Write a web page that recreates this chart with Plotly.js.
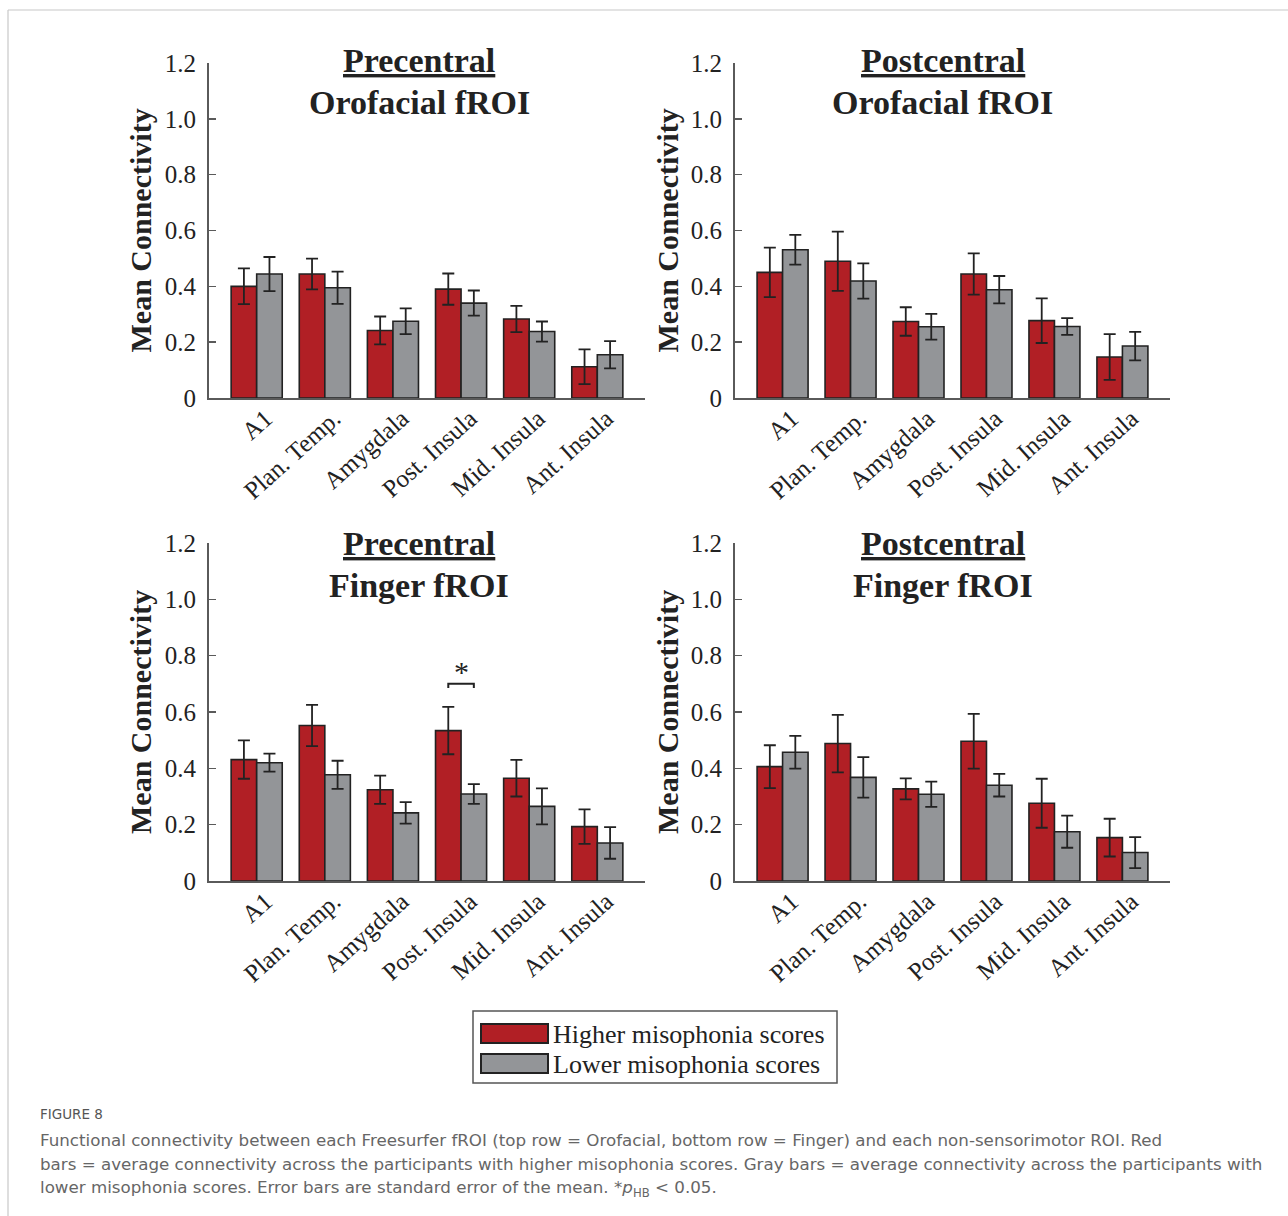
<!DOCTYPE html>
<html>
<head>
<meta charset="utf-8">
<script src="https://cdn.plot.ly/plotly-3.0.1.min.js"></script>
<style>html,body{margin:0;padding:0;background:#fff;}#chart{width:1288px;height:1216px;}</style>
</head>
<body>
<div id="chart"></div>
<script>
// ---------- data ----------
const categories = ['A1', 'Plan. Temp.', 'Amygdala', 'Post. Insula', 'Mid. Insula', 'Ant. Insula'];
const seriesNames = ['Higher misophonia scores', 'Lower misophonia scores'];

const preOroHigh = [0.400, 0.444, 0.242, 0.390, 0.283, 0.112];
const preOroHighErr = [0.064, 0.055, 0.050, 0.056, 0.047, 0.062];
const preOroLow = [0.444, 0.395, 0.275, 0.340, 0.238, 0.155];
const preOroLowErr = [0.061, 0.058, 0.046, 0.045, 0.036, 0.049];

const postOroHigh = [0.450, 0.490, 0.274, 0.444, 0.277, 0.147];
const postOroHighErr = [0.089, 0.106, 0.051, 0.074, 0.080, 0.082];
const postOroLow = [0.531, 0.419, 0.255, 0.388, 0.256, 0.186];
const postOroLowErr = [0.053, 0.063, 0.046, 0.049, 0.030, 0.051];

const preFinHigh = [0.431, 0.552, 0.324, 0.534, 0.365, 0.193];
const preFinHighErr = [0.068, 0.073, 0.050, 0.084, 0.065, 0.061];
const preFinLow = [0.420, 0.377, 0.242, 0.309, 0.265, 0.135];
const preFinLowErr = [0.032, 0.050, 0.038, 0.035, 0.064, 0.056];

const postFinHigh = [0.406, 0.488, 0.327, 0.496, 0.276, 0.154];
const postFinHighErr = [0.076, 0.102, 0.037, 0.097, 0.087, 0.067];
const postFinLow = [0.457, 0.368, 0.308, 0.340, 0.175, 0.101];
const postFinLowErr = [0.058, 0.072, 0.045, 0.040, 0.057, 0.055];

const yTickVals = [0, 0.2, 0.4, 0.6, 0.8, 1.0, 1.2];
const yTickText = ['0', '0.2', '0.4', '0.6', '0.8', '1.0', '1.2'];

const panelTitles = [
  ['Precentral', 'Orofacial fROI'],
  ['Postcentral', 'Orofacial fROI'],
  ['Precentral', 'Finger fROI'],
  ['Postcentral', 'Finger fROI']
];
const yTitle = 'Mean Connectivity';
// significance marker (bottom-left panel, Post. Insula)
const sigCategory = 'Post. Insula';
const sigLabel = '*';
const sigBracketY = [0.685, 0.700];
const sigStarY = 0.745;

// ---------- styling ----------
const W = 1288, H = 1216;
const RED = '#b11f25', GRAY = '#939598', EDGE = '#222222', AX = '#5a5a5a';
const SERIF = 'Liberation Serif, Times New Roman, serif';
const SANS = 'DejaVu Sans, Open Sans, sans-serif';
const fx = p => p / W;
const fy = p => 1 - p / H;

const panels = [
  {hi: preOroHigh, hiE: preOroHighErr, lo: preOroLow, loE: preOroLowErr, xd: [209, 645], yd: [398, 63], cx: 419, t1: 61, t2: 103, ycx: 140},
  {hi: postOroHigh, hiE: postOroHighErr, lo: postOroLow, loE: postOroLowErr, xd: [735, 1170], yd: [398, 63], cx: 943, t1: 61, t2: 103, ycx: 667},
  {hi: preFinHigh, hiE: preFinHighErr, lo: preFinLow, loE: preFinLowErr, xd: [209, 645], yd: [881, 543], cx: 419, t1: 543, t2: 585, ycx: 140},
  {hi: postFinHigh, hiE: postFinHighErr, lo: postFinLow, loE: postFinLowErr, xd: [735, 1170], yd: [881, 543], cx: 943, t1: 543, t2: 585, ycx: 667}
];

const data = [];
const layout = {
  width: W, height: H,
  margin: {l: 0, r: 0, t: 0, b: 0},
  paper_bgcolor: '#fff', plot_bgcolor: 'rgba(0,0,0,0)',
  barmode: 'group', bargap: 0.25, bargroupgap: 0,
  showlegend: false,
  font: {family: SERIF, color: '#222'},
  annotations: [], shapes: []
};

panels.forEach((p, i) => {
  const n = i === 0 ? '' : String(i + 1);
  const xa = 'x' + n, ya = 'y' + n;
  const mk = (vals, errs, color, name) => ({
    type: 'bar', x: categories, y: vals, name: name,
    xaxis: xa, yaxis: ya,
    marker: {color: color, line: {color: EDGE, width: 1.6}},
    error_y: {type: 'data', array: errs, visible: true, color: EDGE, thickness: 1.8, width: 6},
    hoverinfo: 'x+y'
  });
  data.push(mk(p.hi, p.hiE, RED, seriesNames[0]));
  data.push(mk(p.lo, p.loE, GRAY, seriesNames[1]));

  layout['xaxis' + n] = {
    domain: [fx(p.xd[0]), fx(p.xd[1])], anchor: ya,
    type: 'category', range: [-0.7, 5.7],
    showline: true, linecolor: AX, linewidth: 2,
    ticks: '', showgrid: false, zeroline: false,
    tickangle: -42, tickfont: {family: SERIF, size: 25, color: '#222'},
    ticklabelshift: 9, ticklabelstandoff: -6,
    fixedrange: true
  };
  layout['yaxis' + n] = {
    domain: [fy(p.yd[0]), fy(p.yd[1])], anchor: xa,
    range: [0, 1.2], tickvals: yTickVals, ticktext: yTickText,
    showline: true, linecolor: AX, linewidth: 2,
    ticks: 'inside', ticklen: 7, tickwidth: 1.5, tickcolor: AX,
    showgrid: false, zeroline: false,
    tickfont: {family: SERIF, size: 25, color: '#222'},
    ticklabelstandoff: 6,
    fixedrange: true
  };

  // panel title (two lines)
  layout.annotations.push({
    xref: 'paper', yref: 'paper', x: fx(p.cx), y: fy(p.t1),
    xanchor: 'center', yanchor: 'middle', showarrow: false,
    text: '<b><u>' + panelTitles[i][0] + '</u></b>',
    font: {family: SERIF, size: 34, color: '#222'}
  });
  layout.annotations.push({
    xref: 'paper', yref: 'paper', x: fx(p.cx), y: fy(p.t2),
    xanchor: 'center', yanchor: 'middle', showarrow: false,
    text: '<b>' + panelTitles[i][1] + '</b>',
    font: {family: SERIF, size: 34, color: '#222'}
  });
  // y-axis title
  layout.annotations.push({
    xref: 'paper', yref: 'paper', x: fx(p.ycx), y: fy((p.yd[0] + p.yd[1]) / 2),
    xanchor: 'center', yanchor: 'middle', showarrow: false, textangle: -90,
    text: '<b>' + yTitle + '</b>',
    font: {family: SERIF, size: 30, color: '#222'}
  });
});

// significance bracket in panel 3 data coordinates
const sigIdx = categories.indexOf(sigCategory);
layout.shapes.push({
  type: 'path', xref: 'x3', yref: 'y3',
  path: `M ${sigIdx - 0.1875} ${sigBracketY[0]} L ${sigIdx - 0.1875} ${sigBracketY[1]} L ${sigIdx + 0.1875} ${sigBracketY[1]} L ${sigIdx + 0.1875} ${sigBracketY[0]}`,
  line: {color: EDGE, width: 2}
});
layout.annotations.push({
  xref: 'x3', yref: 'y3', x: sigIdx, y: sigStarY, showarrow: false,
  xanchor: 'center', yanchor: 'middle', text: sigLabel,
  font: {family: SERIF, size: 30, color: '#222'}
});

// legend (drawn box)
layout.shapes.push({type: 'rect', xref: 'paper', yref: 'paper',
  x0: fx(473), x1: fx(837), y0: fy(1083), y1: fy(1011),
  line: {color: '#555', width: 1.5}, fillcolor: '#fff'});
[[RED, 1024, 1043, 1034], [GRAY, 1054, 1073, 1064]].forEach((s, k) => {
  layout.shapes.push({type: 'rect', xref: 'paper', yref: 'paper',
    x0: fx(481), x1: fx(548), y0: fy(s[2]), y1: fy(s[1]),
    line: {color: EDGE, width: 2}, fillcolor: s[0]});
  layout.annotations.push({xref: 'paper', yref: 'paper', x: fx(551), y: fy(s[3]),
    xanchor: 'left', yanchor: 'middle', showarrow: false, text: seriesNames[k],
    font: {family: SERIF, size: 26, color: '#222'}});
});

// page frame lines
layout.shapes.push({type: 'line', xref: 'paper', yref: 'paper', x0: fx(8), x1: 1, y0: fy(10), y1: fy(10), line: {color: '#c8c8c8', width: 1.2}});
layout.shapes.push({type: 'line', xref: 'paper', yref: 'paper', x0: fx(8), x1: fx(8), y0: fy(10), y1: 0, line: {color: '#c8c8c8', width: 1.2}});

// caption
const captionHead = 'FIGURE 8';
const captionLines = [
  'Functional connectivity between each Freesurfer fROI (top row = Orofacial, bottom row = Finger) and each non-sensorimotor ROI. Red',
  'bars = average connectivity across the participants with higher misophonia scores. Gray bars = average connectivity across the participants with',
  'lower misophonia scores. Error bars are standard error of the mean. *<i>p</i><sub>HB</sub> &lt; 0.05.'
];
layout.annotations.push({xref: 'paper', yref: 'paper', x: fx(38), y: fy(1114),
  xanchor: 'left', yanchor: 'middle', showarrow: false, text: captionHead,
  font: {family: SANS, size: 13.5, color: '#555'}});
captionLines.forEach((t, k) => {
  layout.annotations.push({xref: 'paper', yref: 'paper', x: fx(38), y: fy(1140 + 24 * k),
    xanchor: 'left', yanchor: 'middle', showarrow: false, text: t, align: 'left',
    font: {family: SANS, size: 16.7, color: '#666'}});
});

Plotly.newPlot('chart', data, layout, {displayModeBar: false, staticPlot: true});
</script>
</body>
</html>
